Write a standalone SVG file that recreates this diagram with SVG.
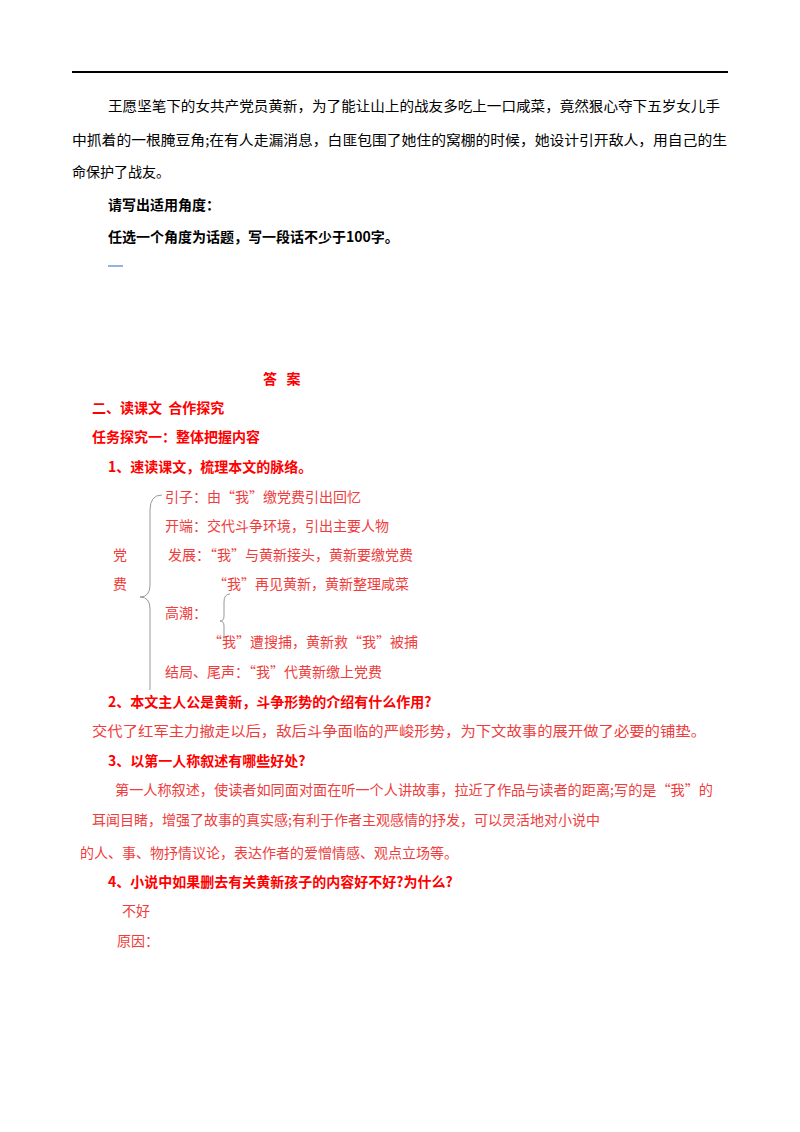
<svg xmlns="http://www.w3.org/2000/svg" width="800" height="1132" viewBox="0 0 800 1132">
<style>
text{font-family:"Noto Sans CJK SC","Noto Sans CJK JP",sans-serif;font-size:14px}
.k{fill:#000}.r{fill:#f03c3c}.b{font-weight:bold}.rb{fill:#ff0000;font-weight:bold}
</style>
<rect width="800" height="1132" fill="#fff"/>
<line x1="72" y1="72" x2="728" y2="72" stroke="#000" stroke-width="2"/>
<g id="passage">
<text class="k" x="108" y="111" textLength="612" lengthAdjust="spacingAndGlyphs">王愿坚笔下的女共产党员黄新，为了能让山上的战友多吃上一口咸菜，竟然狠心夺下五岁女儿手</text>
<text class="k" x="72" y="145" textLength="655" lengthAdjust="spacingAndGlyphs">中抓着的一根腌豆角;在有人走漏消息，白匪包围了她住的窝棚的时候，她设计引开敌人，用自己的生</text>
<text class="k" x="72" y="177">命保护了战友。</text>
<text class="k b" x="108" y="210">请写出适用角度：</text>
<text class="k b" x="108" y="242">任选一个角度为话题，写一段话不少于100字。</text>
<line x1="108" y1="266" x2="123" y2="266" stroke="#2266cc" stroke-width="1"/>
</g>
<g id="answers">
<text class="rb" x="263" y="384" xml:space="preserve">答   案</text>
<text class="rb" x="92" y="413" xml:space="preserve">二、读课文  合作探究</text>
<text class="rb" x="92" y="442">任务探究一：整体把握内容</text>
<text class="rb" x="108" y="472">1、速读课文，梳理本文的脉络。</text>
</g>
<g id="outline">
<text class="r" x="113" y="560">党</text>
<text class="r" x="113" y="589">费</text>
<text class="r" x="165" y="502">引子：由“我”缴党费引出回忆</text>
<text class="r" x="165" y="531">开端：交代斗争环境，引出主要人物</text>
<text class="r" x="168" y="560">发展：“我”与黄新接头，黄新要缴党费</text>
<text class="r" x="213" y="589">“我”再见黄新，黄新整理咸菜</text>
<text class="r" x="165" y="618">高潮：</text>
<text class="r" x="208" y="647">“我”遭搜捕，黄新救“我”被捕</text>
<text class="r" x="165" y="677">结局、尾声：“我”代黄新缴上党费</text>
</g>
<g id="connectors" fill="none" stroke="#999" stroke-width="1">
<path d="M162,495 Q150,495 150,510 L150,585 Q150,597 140,597 Q150,597 150,609 L150,690"/>
<path d="M230,594 Q224,594 224,602 L224,616 Q224,621 220,621 Q224,621 224,626 L224,640"/>
</g>
<g id="questions">
<text class="rb" x="108" y="707">2、本文主人公是黄新，斗争形势的介绍有什么作用?</text>
<text class="r" x="92" y="736" textLength="614" lengthAdjust="spacingAndGlyphs">交代了红军主力撤走以后，敌后斗争面临的严峻形势，为下文故事的展开做了必要的铺垫。</text>
<text class="rb" x="108" y="766">3、以第一人称叙述有哪些好处?</text>
<text class="r" x="115" y="795" textLength="598" lengthAdjust="spacingAndGlyphs">第一人称叙述，使读者如同面对面在听一个人讲故事，拉近了作品与读者的距离;写的是“我”的</text>
<text class="r" x="92" y="825">耳闻目睹，增强了故事的真实感;有利于作者主观感情的抒发，可以灵活地对小说中</text>
<text class="r" x="80" y="858">的人、事、物抒情议论，表达作者的爱憎情感、观点立场等。</text>
<text class="rb" x="108" y="887">4、小说中如果删去有关黄新孩子的内容好不好?为什么?</text>
<text class="r" x="122" y="916">不好</text>
<text class="r" x="117" y="946">原因：</text>
</g>
</svg>
